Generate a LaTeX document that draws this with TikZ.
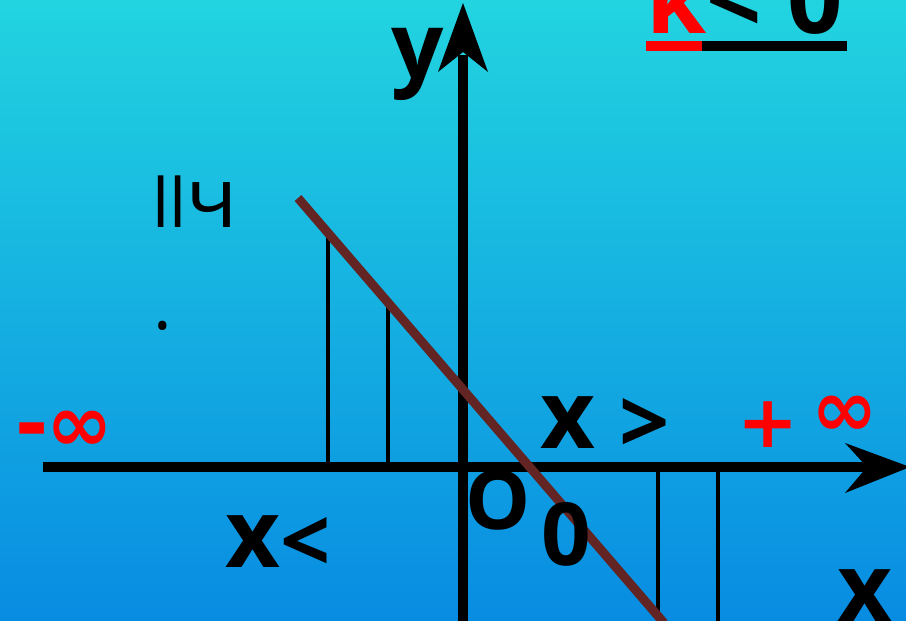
\documentclass[tikz,border=0pt]{standalone}
\usepackage{fontspec}
\setmainfont{Open Sans}
\newfontfamily\dvb{DejaVu Sans}
\definecolor{bgtop}{RGB}{34,212,224}
\definecolor{bgbot}{RGB}{8,140,226}
\definecolor{linebrown}{RGB}{99,37,35}
\definecolor{myred}{RGB}{255,0,0}
\tikzset{
  axis/.style={line width=10.5pt,black},
  thin/.style={line width=3.5pt,black},
  big/.style={inner sep=0pt,anchor=base west,font=\fontsize{95}{95}\selectfont\bfseries},
  inf/.style={inner sep=0pt,anchor=base west,text=myred,font=\fontsize{80}{80}\selectfont\dvb\bfseries}
}
\begin{document}
\begin{tikzpicture}[x=1pt,y=-1pt]
\useasboundingbox (0,0) rectangle (906,621);
\shade[top color=bgtop,bottom color=bgbot] (0,0) rectangle (906,621);
% thin verticals
\draw[thin] (328,233) -- (328,467);
\draw[thin] (388,303) -- (388,467);
\draw[thin] (658,467) -- (658,621);
\draw[thin] (718,467) -- (718,621);
% axes
\draw[axis] (43,467) -- (872,467);
\fill (910,467) -- (845,443) -- (867,467) -- (845,493) -- cycle;
\draw[axis] (463,621) -- (463,55);
\fill (463,3) -- (488,72) -- (463,52) -- (438,72) -- cycle;
% line
\draw[line width=9pt,linebrown] (298,198) -- (664,623);
% texts
\node[big,font=\fontsize{92}{92}\selectfont\bfseries] (ylab) at (391,78) {y};
\node[big] (xgt) at (540,448) {x \raisebox{-5pt}{\fontsize{88}{88}\selectfont >}};
\node[big] (xlt) at (225,567) {x\raisebox{-5pt}{\fontsize{88}{88}\selectfont <}};
\node[big] (xlab) at (837,621) {x};
\node[big,font=\fontsize{82}{82}\selectfont\bfseries] (olab) at (465,529) {O};
\node[big,font=\fontsize{87}{87}\selectfont\bfseries] (zero) at (541,565) {0};
\node[big,font=\fontsize{97}{97}\selectfont\bfseries] (kcond) at (646,33) {\textcolor{myred}{k}<\hspace{1pt} 0};
\node[inf,font=\fontsize{73}{73}\selectfont\dvb\bfseries] (plus) at (737,447) {+};
\node[inf] (pinf) at (811,436) {∞};
\node[inf] (minus) at (15,451) {-};
\node[inf] (minf) at (46,451) {∞};
\node[inner sep=0pt,anchor=base west,font=\fontsize{68}{68}\selectfont] (frac) at (152,227) {ll\fontsize{84}{84}\selectfont ч};
\node[inner sep=0pt,anchor=base west,font=\fontsize{70}{70}\selectfont] (dot) at (153,329) {.};
% underline
\fill[myred] (646,41) rectangle (702,51);
\fill[black] (702,41) rectangle (847,51);
\end{tikzpicture}
\end{document}
